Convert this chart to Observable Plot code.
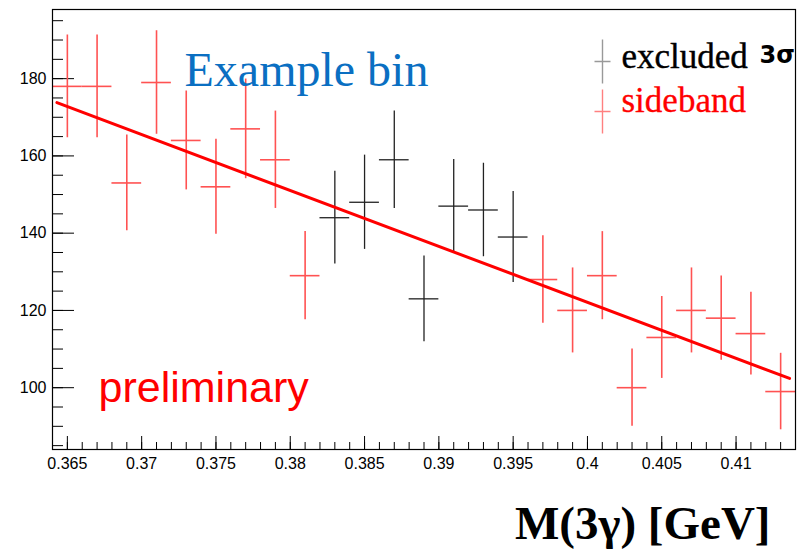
<!DOCTYPE html>
<html>
<head>
<meta charset="utf-8">
<script src="https://cdn.jsdelivr.net/npm/d3@7"></script>
<script src="https://cdn.jsdelivr.net/npm/@observablehq/plot@0.6"></script>
<style>
  html, body { margin: 0; padding: 0; background: #fff; }
  #chart svg { display: block; }
</style>
</head>
<body>
<div id="chart"></div>
<script>
// ---- data ----
const binHalfWidth = 0.001;

const sidebandX   = [0.365, 0.367, 0.369, 0.371, 0.373, 0.375, 0.377, 0.379, 0.381,
                     0.397, 0.399, 0.401, 0.403, 0.405, 0.407, 0.409, 0.411, 0.413];
const sidebandY   = [178, 178, 153, 179, 164, 152, 167, 159, 129,
                     128, 120, 129, 100, 113, 120, 118, 114, 99];
const sidebandErr = [13.3, 13.3, 12.4, 13.4, 12.8, 12.3, 12.9, 12.6, 11.4,
                     11.3, 11.0, 11.4, 10.0, 10.6, 11.0, 10.9, 10.7, 9.9];

const excludedX   = [0.383, 0.385, 0.387, 0.389, 0.391, 0.393, 0.395];
const excludedY   = [144, 148, 159, 123, 147, 146, 139];
const excludedErr = [12.0, 12.2, 12.6, 11.1, 12.1, 12.1, 11.8];

const fitX = [0.3643, 0.4136];
const fitY = [173.8, 102.4];

const xTicks = [0.365, 0.37, 0.375, 0.38, 0.385, 0.39, 0.395, 0.4, 0.405, 0.41];
const xTickLabels = ["0.365", "0.37", "0.375", "0.38", "0.385", "0.39", "0.395", "0.4", "0.405", "0.41"];
const yTicks = [100, 120, 140, 160, 180];
const yTickLabels = ["100", "120", "140", "160", "180"];

const xMinor = d3.range(365, 414).map(d => d / 1000);
const yMinor = d3.range(85, 200, 5);

const sideband = sidebandX.map((x, i) => ({x, y: sidebandY[i], e: sidebandErr[i]}));
const excluded = excludedX.map((x, i) => ({x, y: excludedY[i], e: excludedErr[i]}));
const fit = fitX.map((x, i) => ({x, y: fitY[i]}));

// ---- layout ----
const W = 798, H = 551;
const mL = 52, mT = 9, mR = 3, mB = 102;
const plotW = W - mL - mR, plotH = H - mT - mB;

const crossSymbol = {
  draw(context) {
    context.moveTo(0, -22); context.lineTo(0, 22);
    context.moveTo(-8, 0); context.lineTo(8, 0);
  }
};

const serif = "'Liberation Serif', 'Times New Roman', serif";
const sans = "'Liberation Sans', Arial, Helvetica, sans-serif";

const errBars = (data, color, width) => [
  Plot.ruleX(data, {x: "x", y1: d => d.y - d.e, y2: d => d.y + d.e, stroke: color, strokeWidth: width}),
  Plot.ruleY(data, {y: "y", x1: d => d.x - binHalfWidth, x2: d => d.x + binHalfWidth, stroke: color, strokeWidth: width})
];

const chart = Plot.plot({
  width: W, height: H,
  marginLeft: mL, marginTop: mT, marginRight: mR, marginBottom: mB,
  style: {fontFamily: sans, fontSize: "16px", background: "#fff", color: "#000"},
  x: {domain: [0.364, 0.414], label: null},
  y: {domain: [84, 197.9], label: null},
  marks: [
    // ticks inside the frame
    Plot.tickY(yMinor, {y: d => d, stroke: "#000", strokeWidth: 1, insetRight: plotW - 11}),
    Plot.tickY(yTicks, {y: d => d, stroke: "#000", strokeWidth: 1, insetRight: plotW - 22}),
    Plot.tickX(xMinor, {x: d => d, stroke: "#000", strokeWidth: 1, insetTop: plotH - 7}),
    Plot.tickX(xTicks, {x: d => d, stroke: "#000", strokeWidth: 1, insetTop: plotH - 13}),
    Plot.axisY({ticks: yTicks, tickSize: 0, tickPadding: 6, fontSize: 16,
                tickFormat: d => yTickLabels[yTicks.indexOf(d)], label: null}),
    Plot.axisX({ticks: xTicks, tickSize: 0, tickPadding: 8, fontSize: 16,
                tickFormat: d => xTickLabels[xTicks.indexOf(d)], label: null}),
    // data
    ...errBars(sideband, "#ff5252", 1.6),
    ...errBars(excluded, "#222", 1.3),
    Plot.line(fit, {x: "x", y: "y", stroke: "#ff0000", strokeWidth: 3}),
    Plot.frame({stroke: "#000", strokeWidth: 1.2}),
    // annotations
    Plot.text(["Example bin"], {frameAnchor: "top-left", dx: 132, dy: 76, lineAnchor: "bottom",
      textAnchor: "start", fontFamily: serif, fontSize: 48, fill: "#0a6fc2"}),
    Plot.dot([0], {frameAnchor: "top-left", dx: 550, dy: 52, symbol: crossSymbol, fill: "none",
      stroke: "#999", strokeWidth: 1.4}),
    Plot.dot([0], {frameAnchor: "top-left", dx: 550, dy: 102, symbol: crossSymbol, fill: "none",
      stroke: "#ff8080", strokeWidth: 1.4}),
    Plot.text(["excluded"], {frameAnchor: "top-left", dx: 569, dy: 58, lineAnchor: "bottom",
      textAnchor: "start", fontFamily: serif, fontSize: 35, fill: "#000", stroke: "#000", strokeWidth: 0.4}),
    Plot.text(["3σ"], {frameAnchor: "top-left", dx: 707, dy: 53, lineAnchor: "bottom",
      textAnchor: "start", fontFamily: "'DejaVu Sans', sans-serif", fontWeight: "bold", fontSize: 24, fill: "#000"}),
    Plot.text(["sideband"], {frameAnchor: "top-left", dx: 569, dy: 102, lineAnchor: "bottom",
      textAnchor: "start", fontFamily: serif, fontSize: 35, fill: "#ff0000", stroke: "#ff0000", strokeWidth: 0.3}),
    Plot.text(["preliminary"], {frameAnchor: "bottom-left", dx: 46, dy: -48, lineAnchor: "bottom",
      textAnchor: "start", fontFamily: sans, fontSize: 43, fill: "#ff0000"}),
    Plot.text(["M(3γ) [GeV]"], {frameAnchor: "bottom-right", dx: -25, dy: 89, lineAnchor: "bottom",
      textAnchor: "end", fontFamily: serif, fontWeight: "bold", fontSize: 47, fill: "#000"})
  ]
});

document.getElementById("chart").appendChild(chart);
</script>
</body>
</html>
